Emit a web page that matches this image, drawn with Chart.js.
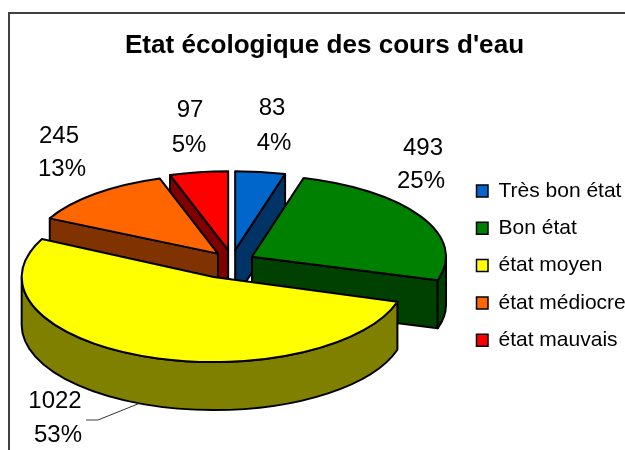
<!DOCTYPE html>
<html><head><meta charset="utf-8">
<style>html,body{margin:0;padding:0;background:#fff}canvas{display:block}</style>
<script src="https://cdn.jsdelivr.net/npm/chart.js@4"></script>
</head><body><canvas id="c" width="625" height="450"></canvas>
<script>
const categories = ["Très bon état","Bon état","état moyen","état médiocre","état mauvais"];
const values = [83,493,1022,245,97];
const percents = ["4%","25%","53%","13%","5%"];
const topColors = ["#0066CC","#008000","#FFFF00","#FF6600","#FF0000"];
const wallColors = ["#003366","#004000","#808000","#803300","#800000"];
const explode = [31,24,36,20,31];
const nudgeX = [0,0,-4,0,2];
const nudgeY = [0,-1.5,0,-3,0];
const radii = [188,194,192,188,188];
const tilts = [0.42,0.42,0.443,0.42,0.42];
const drawOrder = [4,0,3,1,2];
const labelSpots = [[272,108,274,143],[423,148,421,181],[55,401,58,435],[59,136,62,169],[190,110,189,145]];

const FONT = '"Liberation Sans", Arial, sans-serif';
const CX = 231, CY = 263, TILT = 0.42, DEPTH = 48;

const pie3d = {
  id:'pie3d',
  afterLayout(chart){
    const l = chart.legend;
    const p = l.options.labels.padding;
    l.left = 476.5 - p; l.right = l.left + l.width;
    l.top = 180.5 - p; l.bottom = l.top + l.height;
  },
  beforeDraw(chart){
    const c = chart.ctx;
    c.save();
    c.strokeStyle = '#404040'; c.lineWidth = 2;
    c.beginPath();
    c.moveTo(9,450); c.lineTo(9,13); c.lineTo(625,13);
    c.stroke();
    c.restore();
  },
  beforeDatasetDraw(chart){
    const c = chart.ctx, arcs = chart.getDatasetMeta(0).data;
    c.save();
    c.lineJoin = 'round';
    c.lineWidth = 2; c.strokeStyle = '#000';
    for (const i of drawOrder){
      const arc = arcs[i];
      const {x,y,startAngle:a0,endAngle:a1,outerRadius:r0} = arc.getProps(['x','y','startAngle','endAngle','outerRadius']);
      const mid = (a0+a1)/2, r = radii[i], k = tilts[i];
      const tx = CX + Math.cos(mid)*explode[i] + nudgeX[i];
      const ty = CY + Math.sin(mid)*explode[i]*TILT + nudgeY[i];
      const px = a => tx + r*Math.cos(a), py = a => ty + r*k*Math.sin(a);
      const quad = a => {
        c.beginPath();
        c.moveTo(tx,ty); c.lineTo(px(a),py(a)); c.lineTo(px(a),py(a)+DEPTH); c.lineTo(tx,ty+DEPTH);
        c.closePath();
        c.fillStyle = wallColors[i]; c.fill(); c.stroke();
      };
      if (Math.cos(a0) < -1e-6) quad(a0);
      if (Math.cos(a1) > 1e-6) quad(a1);
      const w0 = Math.max(a0,0), w1 = Math.min(a1,Math.PI);
      if (w1 > w0){
        c.beginPath();
        c.ellipse(tx,ty,r,r*k,0,w0,w1);
        c.ellipse(tx,ty+DEPTH,r,r*k,0,w1,w0,true);
        c.closePath();
        c.fillStyle = wallColors[i]; c.fill(); c.stroke();
      }
      c.save();
      c.translate(tx,ty); c.scale(r/r0,k*r/r0); c.translate(-x,-y);
      arc.draw(c);
      c.restore();
      c.beginPath();
      c.moveTo(tx,ty);
      c.ellipse(tx,ty,r,r*k,0,a0,a1);
      c.closePath();
      c.stroke();
    }
    c.restore();
    return false;
  },
  afterDraw(chart){
    const c = chart.ctx;
    c.save();
    c.strokeStyle = '#808080'; c.lineWidth = 1.5;
    c.beginPath(); c.moveTo(86,420); c.lineTo(98,420); c.stroke();
    c.strokeStyle = '#333'; c.lineWidth = 1;
    c.beginPath(); c.moveTo(98,420); c.lineTo(139,403.5); c.stroke();
    c.fillStyle = '#000'; c.font = '24px '+FONT; c.textAlign='center'; c.textBaseline='middle';
    values.forEach((v,i)=>{
      const [x1,y1,x2,y2] = labelSpots[i];
      c.fillText(String(v),x1,y1);
      c.fillText(percents[i],x2,y2);
    });
    c.restore();
  }
};

new Chart(document.getElementById('c'),{
  type:'pie',
  data:{labels:categories,datasets:[{data:values,backgroundColor:topColors,borderWidth:0,borderColor:'#000'}]},
  options:{
    responsive:false,animation:false,devicePixelRatio:1,
    radius:100,
    layout:{padding:{left:24,right:0,top:0,bottom:0}},
    plugins:{
      tooltip:{enabled:false},
      title:{display:true,text:"Etat écologique des cours d'eau",color:'#000',
        font:{family:FONT,size:26.1,weight:'bold'},padding:{top:30,bottom:10}},
      legend:{display:true,position:'right',align:'start',
        labels:{font:{family:FONT,size:21},color:'#000',boxWidth:11.5,boxHeight:12,padding:16.3,
          generateLabels(chart){
            return categories.map((t,i)=>({text:t,fillStyle:topColors[i],strokeStyle:'#000',lineWidth:1.5,index:i,hidden:false}));
          }}}
    }
  },
  plugins:[pie3d]
});
</script></body></html>
